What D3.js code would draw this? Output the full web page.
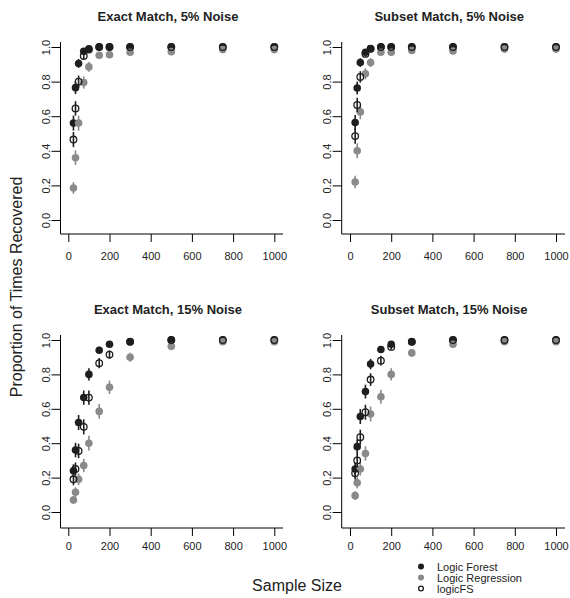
<!DOCTYPE html>
<html>
<head>
<meta charset="utf-8">
<script src="https://cdn.jsdelivr.net/npm/d3@7/dist/d3.min.js"></script>
<style>
  html, body { margin: 0; padding: 0; background: #fff; }
  svg { display: block; font-family: "Liberation Sans", Arial, Helvetica, sans-serif; }
</style>
</head>
<body>
<svg id="chart" width="570" height="598"></svg>
<script>
// ---------------- DATA ----------------
const sampleSizes = [25, 35, 50, 75, 100, 150, 200, 300, 500, 750, 1000];
const xTicks = [0, 200, 400, 600, 800, 1000];
const yTicks = [0, 0.2, 0.4, 0.6, 0.8, 1.0];
const panelTitles = ["Exact Match, 5% Noise", "Subset Match, 5% Noise",
                     "Exact Match, 15% Noise", "Subset Match, 15% Noise"];
const methods = ["Logic Forest", "Logic Regression", "logicFS"];
const replicates = 500; // simulation replicates used for the binomial error bars

// Exact Match, 5% Noise
const exact5_LF = [0.56, 0.765, 0.905, 0.975, 0.99, 1, 1, 1, 1, 1, 1];
const exact5_LR = [0.185, 0.36, 0.56, 0.795, 0.885, 0.952, 0.955, 0.97, 0.973, 0.985, 0.985];
const exact5_FS = [0.465, 0.645, 0.80, 0.948, 0.985, 1, 1, 1, 1, 1, 1];
// Subset Match, 5% Noise
const subset5_LF = [0.563, 0.763, 0.91, 0.97, 0.99, 1, 1, 1, 1, 1, 1];
const subset5_LR = [0.22, 0.40, 0.625, 0.845, 0.91, 0.97, 0.97, 0.98, 0.977, 0.988, 0.988];
const subset5_FS = [0.485, 0.665, 0.827, 0.96, 0.99, 1, 1, 1, 1, 1, 1];
// Exact Match, 15% Noise
const exact15_LF = [0.24, 0.36, 0.52, 0.665, 0.80, 0.94, 0.975, 0.99, 1, 1, 1];
const exact15_LR = [0.07, 0.115, 0.19, 0.27, 0.40, 0.585, 0.725, 0.90, 0.963, 0.99, 0.99];
const exact15_FS = [0.19, 0.25, 0.355, 0.495, 0.665, 0.865, 0.915, 0.99, 1, 1, 1];
// Subset Match, 15% Noise
const subset15_LF = [0.25, 0.38, 0.555, 0.70, 0.86, 0.945, 0.975, 0.99, 1, 1, 1];
const subset15_LR = [0.095, 0.17, 0.25, 0.34, 0.57, 0.67, 0.80, 0.925, 0.975, 0.99, 0.99];
const subset15_FS = [0.225, 0.30, 0.435, 0.58, 0.77, 0.88, 0.96, 0.99, 1, 1, 1];

// ---------------- LAYOUT / STYLE ----------------
const panelSeries = [
  [exact5_LF, exact5_LR, exact5_FS],
  [subset5_LF, subset5_LR, subset5_FS],
  [exact15_LF, exact15_LR, exact15_FS],
  [subset15_LF, subset15_LR, subset15_FS]
];
const colX = [{axis: 60.5, x0: 68.3, x1: 274.3, right: 283},
              {axis: 341.7, x0: 350, x1: 556, right: 565}];
const rowY = [{y0: 220, y1: 47, axisY: 234, top: 42, title: 20.5, pad: 10},
              {y0: 512, y1: 340, axisY: 528, top: 335, title: 314, pad: 6}];
const styles = [
  {fill: "#1e1e1e", stroke: "none", bar: "#1e1e1e"},
  {fill: "#8a8a8a", stroke: "none", bar: "#8a8a8a"},
  {fill: "none", stroke: "#1e1e1e", bar: "#1e1e1e"}
];
const R = 3.8;

const svg = d3.select("#chart");

panelSeries.forEach((series, i) => {
  const c = colX[i % 2], r = rowY[Math.floor(i / 2)];
  const x = d3.scaleLinear().domain([0, 1000]).range([c.x0, c.x1]);
  const y = d3.scaleLinear().domain([0, 1]).range([r.y0, r.y1]);
  const g = svg.append("g");

  // L-shaped frame
  g.append("line").attr("x1", c.axis).attr("x2", c.axis).attr("y1", r.top).attr("y2", r.axisY)
    .attr("stroke", "#000").attr("stroke-width", 1);
  g.append("line").attr("x1", c.axis).attr("x2", c.right).attr("y1", r.axisY).attr("y2", r.axisY)
    .attr("stroke", "#000").attr("stroke-width", 1);

  // x axis
  const xa = g.append("g").attr("transform", `translate(0,${r.axisY})`)
    .call(d3.axisBottom(x).tickValues(xTicks).tickSize(8).tickSizeOuter(0).tickPadding(r.pad).tickFormat(d3.format("d")));
  xa.select(".domain").remove();
  xa.selectAll("text").attr("font-size", 11).attr("fill", "#222").attr("font-family", "Liberation Sans, Arial, sans-serif");
  xa.selectAll("line").attr("stroke", "#000");

  // y axis
  const ya = g.append("g").attr("transform", `translate(${c.axis},0)`)
    .call(d3.axisLeft(y).tickValues(yTicks).tickSize(9).tickSizeOuter(0).tickFormat(d3.format(".1f")));
  ya.select(".domain").remove();
  ya.selectAll("line").attr("stroke", "#000");
  ya.selectAll("text")
    .attr("font-size", 11).attr("fill", "#222").attr("font-family", "Liberation Sans, Arial, sans-serif")
    .attr("x", null).attr("dy", null)
    .attr("text-anchor", "middle")
    .attr("transform", "translate(-15,0) rotate(-90)")
    .attr("dominant-baseline", "central");

  // title
  g.append("text").attr("x", c.axis + 107.5).attr("y", r.title)
    .attr("text-anchor", "middle").attr("font-weight", "bold").attr("font-size", 13)
    .attr("fill", "#222").text(panelTitles[i]);

  // series: error bars + points
  series.forEach((vals, m) => {
    const st = styles[m];
    const pts = sampleSizes.map((n, k) => {
      const p = vals[k];
      const h = 1.96 * Math.sqrt(p * (1 - p) / replicates);
      return {n, p, lo: Math.max(0, p - h), hi: Math.min(1, p + h)};
    });
    const sg = g.append("g");
    sg.selectAll("line.eb").data(pts).join("line").attr("class", "eb")
      .attr("x1", d => x(d.n)).attr("x2", d => x(d.n))
      .attr("y1", d => y(d.lo)).attr("y2", d => y(d.hi))
      .attr("stroke", st.bar).attr("stroke-width", 1.6);
    sg.selectAll("circle").data(pts).join("circle")
      .attr("cx", d => x(d.n)).attr("cy", d => y(d.p))
      .attr("r", m === 2 ? R - 0.5 : R)
      .attr("fill", st.fill).attr("stroke", st.stroke).attr("stroke-width", 1.3);
  });
});

// axis titles
svg.append("text").attr("transform", "translate(22,287) rotate(-90)")
  .attr("text-anchor", "middle").attr("font-size", 16).attr("fill", "#222")
  .text("Proportion of Times Recovered");
svg.append("text").attr("x", 297).attr("y", 591)
  .attr("text-anchor", "middle").attr("font-size", 16).attr("fill", "#222")
  .text("Sample Size");

// legend
const lg = svg.append("g");
methods.forEach((name, m) => {
  const yy = 566.5 + m * 11;
  const st = styles[m];
  lg.append("circle").attr("cx", 421).attr("cy", yy).attr("r", m === 2 ? 2.4 : 3)
    .attr("fill", st.fill).attr("stroke", st.stroke).attr("stroke-width", 1.3);
  lg.append("text").attr("x", 437).attr("y", yy).attr("dominant-baseline", "central")
    .attr("font-size", 11).attr("fill", "#222").text(name);
});
</script>
</body>
</html>
